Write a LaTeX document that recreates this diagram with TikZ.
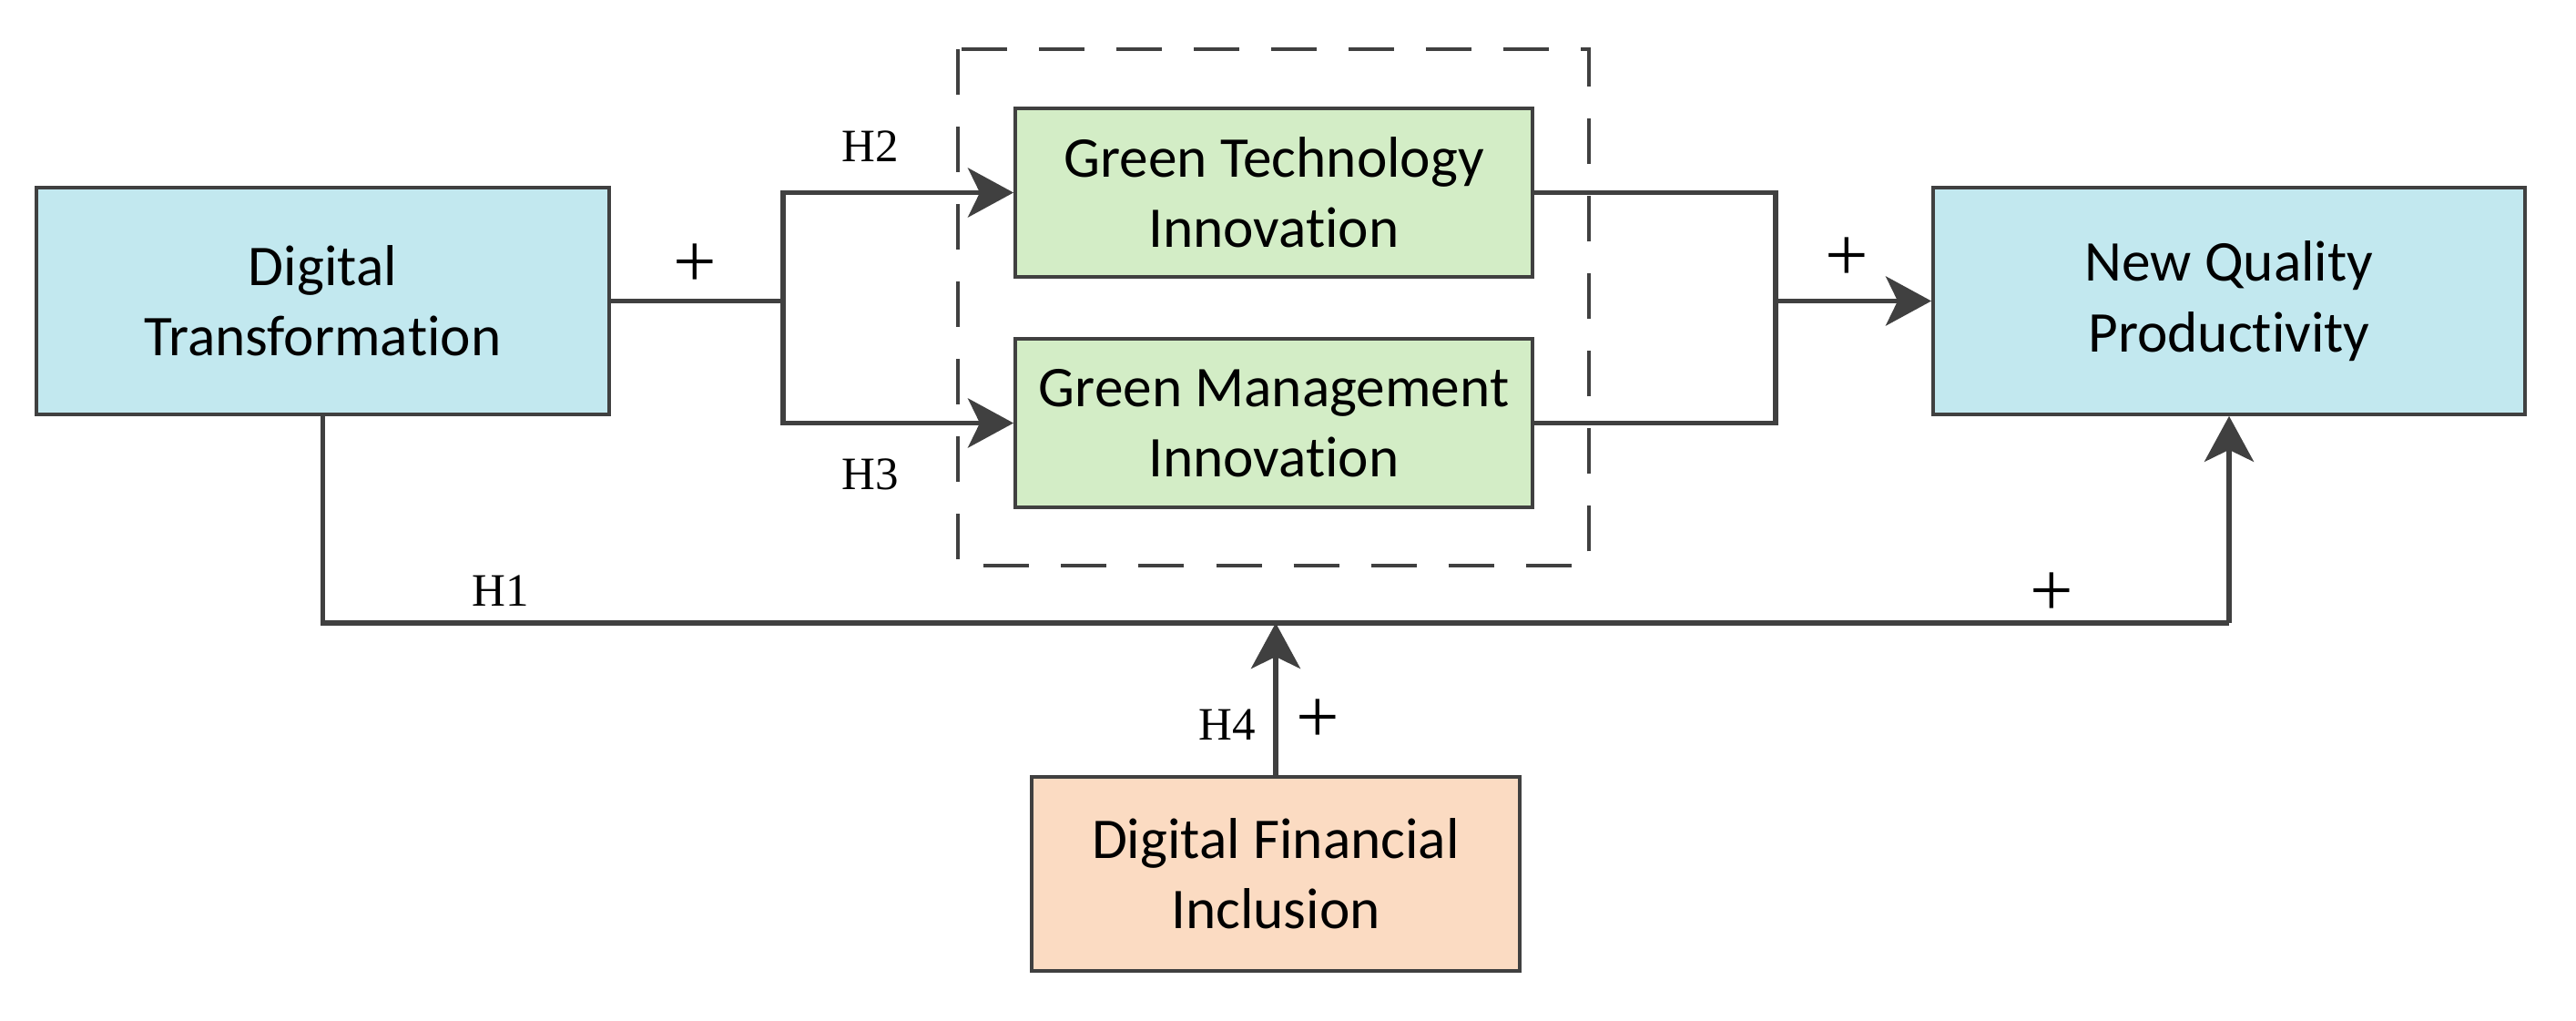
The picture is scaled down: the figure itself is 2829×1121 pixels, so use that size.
\documentclass[tikz,border=0pt]{standalone}
\usepackage{fontspec}
\setmainfont{Carlito}[RawFeature={-liga,-clig,-calt,-dlig}]
\newfontfamily\serifrm{Liberation Serif}
\usetikzlibrary{arrows.meta}
\definecolor{lineC}{HTML}{404040}
\definecolor{blueF}{HTML}{C2E8EF}
\definecolor{greenF}{HTML}{D3EDC6}
\definecolor{orangeF}{HTML}{FBDBC2}
\tikzset{
  box/.style={draw=lineC, line width=1pt, inner sep=0pt, align=center,
    font=\fontsize{18}{22}\selectfont},
  conn/.style={draw=lineC, line width=1.6pt},
  arr/.style={conn, -{Stealth[length=5mm, width=5.4mm, inset=1.3mm]}},
  hlab/.style={font=\serifrm\fontsize{14.5}{16}\selectfont, inner sep=0pt},
  plab/.style={font=\serifrm\fontsize{24}{26}\selectfont, inner sep=0pt},
}
\begin{document}
\begin{tikzpicture}[x=0.01cm, y=-0.01cm]
\useasboundingbox (0,0) rectangle (2829,1121);
% dashed group
\draw[lineC, line width=1pt, dash pattern=on 5mm off 3.5mm] (1052,54) rectangle (1745,621);
% boxes
\node[box, minimum width=6.29cm, minimum height=2.49cm, fill=blueF] (dt) at (354.5,330.5) {Digital\\Transforma\kern0pt tion};
\node[box, minimum width=5.68cm, minimum height=1.85cm, fill=greenF] (gti) at (1399,211.5) {Green Technology\\Innovation};
\node[box, minimum width=5.68cm, minimum height=1.85cm, fill=greenF] (gmi) at (1399,464.5) {Green Management\\Innovation};
\node[box, minimum width=6.50cm, minimum height=2.49cm, fill=blueF] (nqp) at (2448,330.5) {New Quality\\Produc\kern0pt tivity};
\node[box, minimum width=5.36cm, minimum height=2.13cm, fill=orangeF] (dfi) at (1401,959.5) {Digital Financial\\Inclusion};
% junction coordinates
\coordinate (jl) at (860,330.5);
\coordinate (jr) at (1950,330.5);
\coordinate (bl) at (354.5,684);
\coordinate (br) at (2448,684);
\coordinate (bm) at (1401,684);
% connectors
\draw[conn] (dt.east) -- (jl);
\draw[arr] (jl) |- (gti.west);
\draw[arr] (jl) |- (gmi.west);
\draw[conn] (gti.east) -| (jr);
\draw[conn] (gmi.east) -| (jr);
\draw[arr] (jr) -- (nqp.west);
\draw[conn] (dt.south) -- (bl) -- (br);
\draw[arr] (br) -- (nqp.south);
\draw[arr] (dfi.north) -- (bm);
% labels
\node[plab] (p1) at (763,292) {+};
\node[hlab] (h2) at (956,161) {H2};
\node[hlab] (h3) at (956,521) {H3};
\node[plab] (p2) at (2028,285) {+};
\node[hlab] (h1) at (550,649) {H1};
\node[plab] (p3) at (2253,653) {+};
\node[hlab] (h4) at (1348,796) {H4};
\node[plab] (p4) at (1447,792) {+};
\end{tikzpicture}
\end{document}
